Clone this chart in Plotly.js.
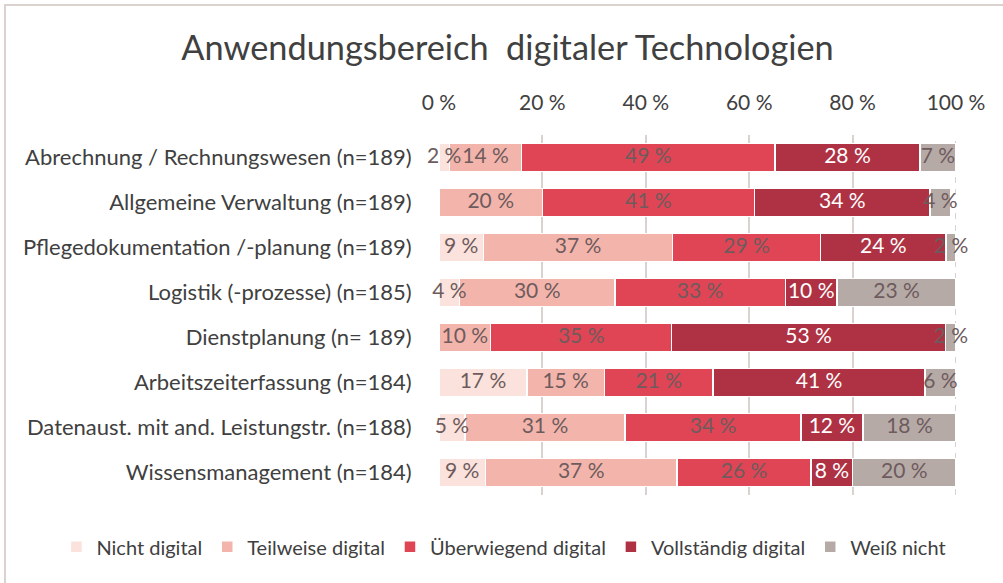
<!DOCTYPE html>
<html>
<head>
<meta charset="utf-8">
<script src="https://cdn.plot.ly/plotly-3.0.1.min.js"></script>
<style>
html,body{margin:0;padding:0;background:#fff;overflow:hidden;}
#wrap{position:absolute;left:0;top:0;width:1003px;height:583px;}
#frame{position:absolute;left:4px;top:4px;width:1010px;height:600px;border-left:2px solid #d9d2cf;border-top:2px solid #d9d2cf;pointer-events:none;}
#chart{position:absolute;left:0;top:0;width:1003px;height:583px;}
</style>
</head>
<body>
<div id="wrap"><div id="chart"></div><div id="frame"></div></div>
<script>
const categories = [
  "Abrechnung / Rechnungswesen (n=189)",
  "Allgemeine Verwaltung (n=189)",
  "Pflegedokumentation /-planung (n=189)",
  "Logistik (-prozesse) (n=185)",
  "Dienstplanung (n= 189)",
  "Arbeitszeiterfassung (n=184)",
  "Datenaust. mit and. Leistungstr. (n=188)",
  "Wissensmanagement (n=184)"
];
const seriesNames = ["Nicht digital","Teilweise digital","Überwiegend digital","Vollständig digital","Weiß nicht"];
const nichtDigital        = [2, 0, 8.6, 4, 0, 17, 5, 9];
const teilweiseDigital    = [14, 20, 36.6, 30, 10, 15, 31, 37];
const ueberwiegendDigital = [49, 41, 28.6, 33, 35, 21, 34, 26];
const vollstaendigDigital = [28, 34, 24.3, 10, 53, 41, 12, 8];
const weissNicht          = [7, 4, 1.9, 23, 2, 6, 18, 20];
const tickValues = [0, 20, 40, 60, 80, 100];
const tickLabels = ["0 %", "20 %", "40 %", "60 %", "80 %", "100 %"];

const colors = ["#fbe2dc", "#f3b5ab", "#e04555", "#ae3243", "#b6aaa7"];
const textColors = ["#6e5b5d", "#6e5b5d", "#6e5b5d", "#ffffff", "#6e5b5d"];
const allSeries = [nichtDigital, teilweiseDigital, ueberwiegendDigital, vollstaendigDigital, weissNicht];
const FONT = "Lato, 'Open Sans', sans-serif";

const barTraces = allSeries.map((vals, i) => ({
  type: "bar",
  orientation: "h",
  name: seriesNames[i],
  y: categories,
  x: vals,
  textposition: "none",
  marker: {color: colors[i], line: {color: "#ffffff", width: 1.5}},
  hoverinfo: "name+x"
}));

// label traces: positioned at the middle of each stacked segment
const labelTraces = allSeries.map((vals, i) => {
  const mids = vals.map((v, r) => {
    let start = 0;
    for (let k = 0; k < i; k++) start += allSeries[k][r];
    return start + v / 2;
  });
  return {
    type: "scatter",
    mode: "text",
    x: mids,
    y: categories,
    text: vals.map(v => v > 0 ? Math.round(v) + " %" : ""),
    textposition: "middle center",
    textfont: {family: FONT, size: 21, color: textColors[i]},
    cliponaxis: false,
    showlegend: false,
    hoverinfo: "skip"
  };
});

const layout = {
  width: 1003, height: 583,
  paper_bgcolor: "#ffffff", plot_bgcolor: "#ffffff",
  barmode: "stack",
  bargap: 0.37,
  margin: {l: 439, r: 47, t: 135, b: 88},
  font: {family: FONT, color: "#404040"},
  title: {
    text: "Anwendungsbereich  digitaler Technologien",
    font: {family: FONT, size: 34.3, color: "#404040"},
    x: 0.506, xanchor: "center", xref: "container",
    y: 0.918, yanchor: "middle", yref: "container"
  },
  xaxis: {
    side: "top",
    range: [0, 100],
    tickvals: tickValues,
    ticktext: tickLabels,
    ticks: "outside", ticklen: 16, tickcolor: "rgba(0,0,0,0)",
    showgrid: true, gridcolor: "#d9d2cf", gridwidth: 2,
    zeroline: false, showline: false,
    tickfont: {family: FONT, size: 21, color: "#404040"},
    fixedrange: true
  },
  yaxis: {
    autorange: "reversed",
    ticks: "outside", ticklen: 22, tickcolor: "rgba(0,0,0,0)",
    showgrid: false, zeroline: false, showline: false,
    tickfont: {family: FONT, size: 22, color: "#404040"},
    fixedrange: true
  },
  legend: {
    orientation: "h",
    xref: "paper", x: -0.74, xanchor: "left",
    yref: "paper", y: -0.144, yanchor: "middle",
    font: {family: FONT, size: 20, color: "#404040"},
    traceorder: "normal",
    itemwidth: 30,
    tracegroupgap: 0
  },
  shapes: [
    {type: "line", xref: "x", yref: "paper", x0: 100, x1: 100, y0: 0, y1: 1, layer: "below",
     line: {color: "#ffffff", width: 3}},
    {type: "line", xref: "x", yref: "paper", x0: 100, x1: 100, y0: 0, y1: 1, layer: "below",
     line: {color: "#d9d2cf", width: 2, dash: "6px,6px"}}
  ],
  showlegend: true
};

Plotly.newPlot("chart", barTraces.concat(labelTraces), layout, {displayModeBar: false, staticPlot: true});
</script>
</body>
</html>
